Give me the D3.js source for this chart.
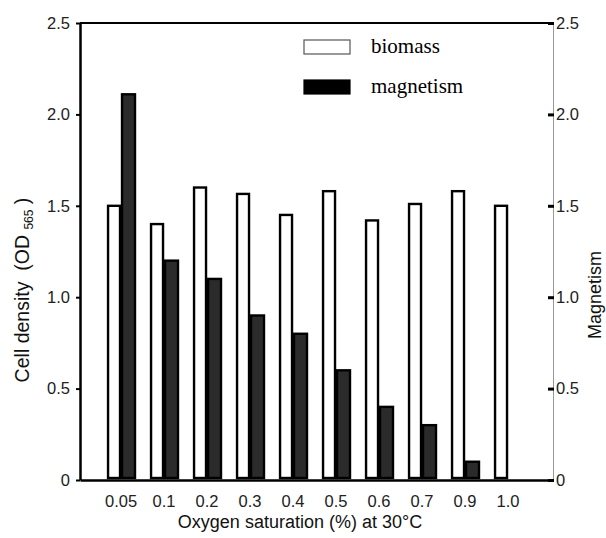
<!DOCTYPE html>
<html><head><meta charset="utf-8">
<script src="https://cdn.jsdelivr.net/npm/d3@7"></script>
<style>body{margin:0;background:#fff}svg{display:block}</style>
</head><body>
<svg id="c" width="606" height="538"></svg>
<script>
const categories = ["0.05","0.1","0.2","0.3","0.4","0.5","0.6","0.7","0.9","1.0"];
const biomass = [1.50,1.40,1.60,1.565,1.45,1.58,1.42,1.51,1.58,1.50];
const magnetism = [2.11,1.20,1.10,0.90,0.80,0.60,0.40,0.30,0.10,0.0];
const yTicks = [0,0.5,1.0,1.5,2.0,2.5];
const yTickLabels = ["0","0.5","1.0","1.5","2.0","2.5"];

const svg = d3.select("#c");
const L = 80, R = 553, T = 23, B = 480;
const sans = "'Liberation Sans', Arial, sans-serif";
const serif = "'Liberation Serif', 'Times New Roman', serif";

const x = d3.scaleBand().domain(categories).range([L, R]).paddingInner(0.35).paddingOuter(0.675).align(0.466);
const xs = d3.scaleBand().domain(["biomass","magnetism"]).range([0, x.bandwidth()]);
const y = d3.scaleLinear().domain([0, 2.5]).range([B, T]);

// bars
const g = svg.append("g");
categories.forEach((c, i) => {
  g.append("rect").attr("x", x(c) + xs("biomass") + 1).attr("y", y(biomass[i]))
    .attr("width", xs.bandwidth() - 2).attr("height", y(0) - y(biomass[i]) - 2)
    .attr("fill", "#fff").attr("stroke", "#000").attr("stroke-width", 2.4);
  if (magnetism[i] > 0) {
    g.append("rect").attr("x", x(c) + xs("magnetism") + 1).attr("y", y(magnetism[i]))
      .attr("width", xs.bandwidth() - 1).attr("height", y(0) - y(magnetism[i]) - 2)
      .attr("fill", "#2b2b2b").attr("stroke", "#000").attr("stroke-width", 2.4);
  }
});

// top border
svg.append("line").attr("x1", L).attr("x2", R).attr("y1", T).attr("y2", T)
  .attr("stroke", "#000").attr("stroke-width", 2);

// right axis
const ra = svg.append("g").attr("transform", `translate(${R},0)`)
  .call(d3.axisRight(y).tickValues(yTicks).tickFormat((d,i)=>yTickLabels[i]).tickSize(0).tickPadding(3));
ra.select(".domain").attr("stroke", "#999").attr("stroke-width", 1);
ra.selectAll(".tick text").attr("font-family", sans).attr("font-size", 16.5).attr("fill", "#222");
ra.selectAll(".tick").append("line").attr("x1", -5).attr("x2", 1).attr("stroke", "#000").attr("stroke-width", 3);

// left axis
const la = svg.append("g").attr("transform", `translate(${L},0)`)
  .call(d3.axisLeft(y).tickValues(yTicks).tickFormat((d,i)=>yTickLabels[i]).tickSize(4).tickSizeOuter(0).tickPadding(6));
la.select(".domain").attr("stroke", "#000").attr("stroke-width", 2.5);
la.selectAll(".tick line").attr("stroke-width", 2);
la.selectAll(".tick text").attr("font-family", sans).attr("font-size", 16.5).attr("fill", "#222");

// bottom axis
const ba = svg.append("g").attr("transform", `translate(0,${B})`)
  .call(d3.axisBottom(x).tickSize(0).tickPadding(15));
ba.select(".domain").attr("stroke", "#000").attr("stroke-width", 2.5);
ba.selectAll(".tick text").attr("font-family", sans).attr("font-size", 16.5).attr("fill", "#222");

// axis titles
const lt = svg.append("text").attr("transform", "translate(29,290) rotate(-90)")
  .attr("text-anchor", "middle").attr("font-family", sans).attr("font-size", 19.5).attr("fill", "#111")
  .attr("xml:space", "preserve").style("white-space", "pre");
lt.append("tspan").text("Cell density  (OD ");
lt.append("tspan").text("565").attr("font-size", 12).attr("dy", 4);
lt.append("tspan").text(" )").attr("dy", -4);

svg.append("text").attr("transform", "translate(601,295) rotate(-90)")
  .attr("text-anchor", "middle").attr("font-family", sans).attr("font-size", 18).attr("fill", "#111")
  .text("Magnetism");

svg.append("text").attr("x", 300).attr("y", 528).attr("text-anchor", "middle")
  .attr("font-family", sans).attr("font-size", 18).attr("fill", "#111")
  .text("Oxygen saturation (%) at 30°C");

// legend
const leg = [["biomass", "#fff", 47], ["magnetism", "#000", 87]];
leg.forEach(([name, fill, cy]) => {
  svg.append("rect").attr("x", 304).attr("y", cy - 7).attr("width", 46).attr("height", 14)
    .attr("fill", fill).attr("stroke", fill === "#fff" ? "#555" : "#000").attr("stroke-width", 1.2);
  svg.append("text").attr("x", 371).attr("y", cy + 6).attr("font-family", serif)
    .attr("font-size", 21).attr("fill", "#000").text(name);
});
</script>
</body></html>
